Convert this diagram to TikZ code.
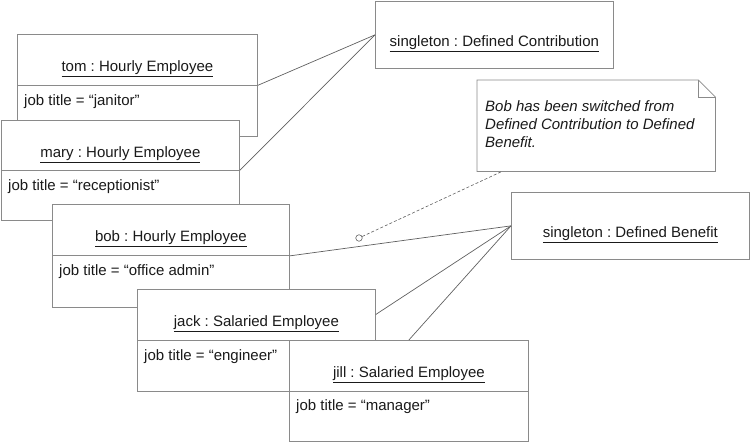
\documentclass[tikz,border=0pt]{standalone}
\usepackage{fontspec}
\setmainfont{Liberation Sans}
\usetikzlibrary{calc}
\definecolor{bordergray}{HTML}{8A8A8A}
\definecolor{linegray}{HTML}{606060}
\definecolor{textgray}{HTML}{1A1A1A}
\frenchspacing
\begin{document}
\begin{tikzpicture}[x=1pt,y=1pt,
  box/.style={draw=bordergray, fill=white, line width=0.75pt, inner sep=0pt, minimum height=102pt, anchor=north west},
  divider/.style={draw=bordergray, line width=0.75pt},
  txt/.style={inner sep=0pt, text=textgray, font=\fontsize{15}{18}\selectfont},
  link/.style={draw=linegray, line width=0.7pt},
  notelink/.style={draw=linegray, line width=0.6pt, dash pattern=on 3pt off 2pt},
]
\useasboundingbox (0,0) rectangle (750,-443);

% tom
\node[box, minimum width=240pt] (tom) at (17,-34) {};
\draw[divider] (tom.west) -- (tom.east);
\node[txt, anchor=base] (tomn) at ([yshift=-38pt]tom.north) {\underline{tom : Hourly Employee}};
\node[txt, anchor=base west] (tomj) at ([shift={(7pt,-20pt)}]tom.west) {job title = “janitor”};

% mary
\node[box, minimum width=238pt, minimum height=100pt] (mary) at (1,-120) {};
\draw[divider] (mary.west) -- (mary.east);
\node[txt, anchor=base] (maryn) at ([yshift=-38pt]mary.north) {\underline{mary : Hourly Employee}};
\node[txt, anchor=base west] (maryj) at ([shift={(7pt,-20pt)}]mary.west) {job title = “receptionist”};

% bob
\node[box, minimum width=237pt, minimum height=103pt] (bob) at (52,-204) {};
\draw[divider] (bob.west) -- (bob.east);
\node[txt, anchor=base] (bobn) at ([yshift=-38pt]bob.north) {\underline{bob : Hourly Employee}};
\node[txt, anchor=base west] (bobj) at ([shift={(7pt,-20pt)}]bob.west) {job title = “office admin”};

% jack
\node[box, minimum width=238pt] (jack) at (137,-289) {};
\draw[divider] (jack.west) -- (jack.east);
\node[txt, anchor=base] (jackn) at ([yshift=-38pt]jack.north) {\underline{jack : Salaried Employee}};
\node[txt, anchor=base west] (jackj) at ([shift={(7pt,-20pt)}]jack.west) {job title = “engineer”};

% jill
\node[box, minimum width=239pt, minimum height=101.5pt] (jill) at (289,-340) {};
\draw[divider] ([yshift=-51pt]jill.north west) -- ([yshift=-51pt]jill.north east);
\node[txt, anchor=base] (jilln) at ([yshift=-38pt]jill.north) {\underline{jill : Salaried Employee}};
\node[txt, anchor=base west] (jillj) at ([shift={(7pt,-71pt)}]jill.north west) {job title = “manager”};

% singletons
\node[box, minimum width=238pt, minimum height=67pt] (dc) at (375,-1) {};
\node[txt, anchor=base] (dcn) at ([yshift=-46pt]dc.north) {\underline{singleton : Defined Contribution}};
\node[box, minimum width=238pt, minimum height=67pt] (db) at (511,-192) {};
\node[txt, anchor=base] (dbn) at ([yshift=-46pt]db.north) {\underline{singleton : Defined Benefit}};

% note
\node[inner sep=0pt, minimum width=238pt, minimum height=91pt, anchor=north west] (note) at (477,-80) {};
\draw[draw=bordergray, fill=white, line width=0.75pt]
  (note.north west) -- ([xshift=-17pt]note.north east) -- ([yshift=-17pt]note.north east)
  -- (note.south east) -- (note.south west) -- cycle;
\draw[draw=bordergray, line width=0.75pt]
  ([xshift=-17pt]note.north east) -- ([shift={(-17pt,-17pt)}]note.north east) -- ([yshift=-17pt]note.north east);
\node[txt, anchor=north west, align=left, font=\fontsize{15}{18}\selectfont\itshape] (notet)
  at ([shift={(8pt,-20pt)}]note.north west) {Bob has been switched from\\Defined Contribution to Defined\\Benefit.};

% connectors
\draw[link] (tom.east) -- (dc.west);
\draw[link] (mary.east) -- (dc.west);
\draw[link] (bob.east) -- (db.west);
\draw[link] ([yshift=-25.5pt]jack.north east) -- (db.west);
\draw[link] (jill.north) -- (db.west);

\node[circle, draw=linegray, line width=0.6pt, inner sep=0pt, minimum size=6.5pt] (anch) at (359,-238) {};
\coordinate (notefoot) at ([xshift=25pt]note.south west);
\draw[notelink] (anch) -- (notefoot);
\end{tikzpicture}
\end{document}
